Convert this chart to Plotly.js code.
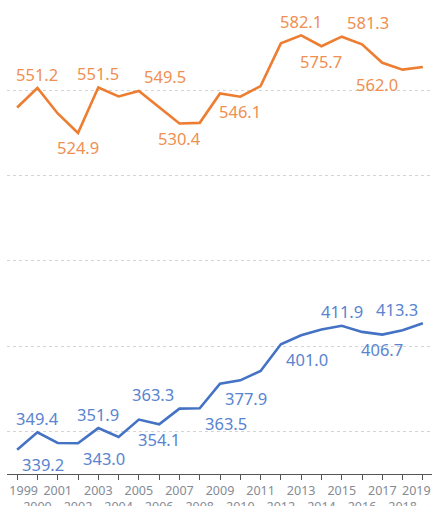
<!DOCTYPE html>
<html>
<head>
<meta charset="utf-8">
<script src="https://cdn.plot.ly/plotly-3.0.1.min.js"></script>
<style>html,body{margin:0;padding:0;background:#fff;}#chart{width:432px;height:506px;}</style>
</head>
<body>
<div id="chart"></div>
<script>
var years = [1999,2000,2001,2002,2003,2004,2005,2006,2007,2008,2009,2010,2011,2012,2013,2014,2015,2016,2017,2018,2019];
var orangeValues = [539.8,551.2,536.3,524.9,551.5,546.3,549.5,540.2,530.4,530.8,548.0,546.1,552.3,577.4,582.1,575.7,581.3,576.8,566.0,562.0,563.5];
var blueValues = [339.2,349.4,343.2,343.0,351.9,346.7,356.9,354.1,363.3,363.5,377.9,379.9,385.4,401.0,406.3,409.7,411.9,408.3,406.7,409.3,413.3];
var orangeLabelYears = [2000,2002,2003,2005,2007,2010,2013,2014,2015,2018];
var blueLabelYears = [1999,2000,2002,2003,2006,2007,2008,2009,2012,2015,2017,2019];
var tickLabels = years.map(function(y){ return String(y); });

// label placement (style only)
var orangePlace = {2000:'t',2002:'b',2003:'t',2005:'tr',2007:'b',2010:'b',2013:'t',2014:'b',2015:'tr',2018:'bl'};
var bluePlace = {1999:'br',2000:'t',2002:'br',2003:'t',2006:'b',2007:'tl',2008:'br',2009:'br',2012:'br',2015:'t',2017:'b',2019:'tl'};
var shifts = {t:[0,14],b:[0,-15],tr:[26,14],tl:[-26,14],br:[26,-15],bl:[-26,-15]};

var ORANGE = '#ED7D31', BLUE = '#4472C4';
var ORANGE_L = '#EF8F52', BLUE_L = '#5A84CF';
var FONT = 'Noto Sans, Open Sans, sans-serif';
var NB = '\u00A0\u00A0\u00A0\u00A0';

function makeAnn(labelYears, values, place, color) {
  return labelYears.map(function(yr){
    var i = years.indexOf(yr);
    var s = shifts[place[yr]];
    return {x: yr, y: values[i], xref:'x', yref:'y', text: values[i].toFixed(1),
      showarrow:false, xanchor:'center', yanchor:'middle', xshift:s[0], yshift:s[1],
      font:{family:FONT, size:16.5, color:color}};
  });
}

var tickText = tickLabels.map(function(t,i){
  var s = t;
  if (i === 0) s = NB + t;                       // keep first label inside the chart
  if (i === tickLabels.length - 1) s = t + NB;   // keep last label inside the chart
  return i % 2 === 0 ? s : '<br>' + s;
});

var traces = [
  {x: years, y: orangeValues, type:'scatter', mode:'lines', line:{color:ORANGE, width:2.6}, hoverinfo:'skip'},
  {x: years, y: blueValues, type:'scatter', mode:'lines', line:{color:BLUE, width:2.6}, hoverinfo:'skip'}
];

var layout = {
  width:432, height:506,
  margin:{l:7, r:0, t:0, b:32},
  paper_bgcolor:'#fff', plot_bgcolor:'#fff',
  showlegend:false,
  xaxis:{
    range:[1998.5,2019.45], tickmode:'array', tickvals: years,
    ticktext: tickText,
    tickangle:0, ticks:'outside', ticklen:5, tickcolor:'#555', tickwidth:1,
    ticklabeloverflow:'allow',
    showline:true, linecolor:'#555', linewidth:1, showgrid:false, zeroline:false,
    tickfont:{family:FONT, size:12.5, color:'#858b96'}
  },
  yaxis:{
    range:[325,602.8], tickmode:'array', tickvals:[350,400,450,500,550],
    showticklabels:false, showgrid:true, gridcolor:'#d4d4d4', griddash:'dot', gridwidth:1,
    zeroline:false, showline:false, ticks:''
  },
  annotations: makeAnn(orangeLabelYears, orangeValues, orangePlace, ORANGE_L)
    .concat(makeAnn(blueLabelYears, blueValues, bluePlace, BLUE_L))
};

Plotly.newPlot('chart', traces, layout, {displayModeBar:false, staticPlot:true});
</script>
</body>
</html>
